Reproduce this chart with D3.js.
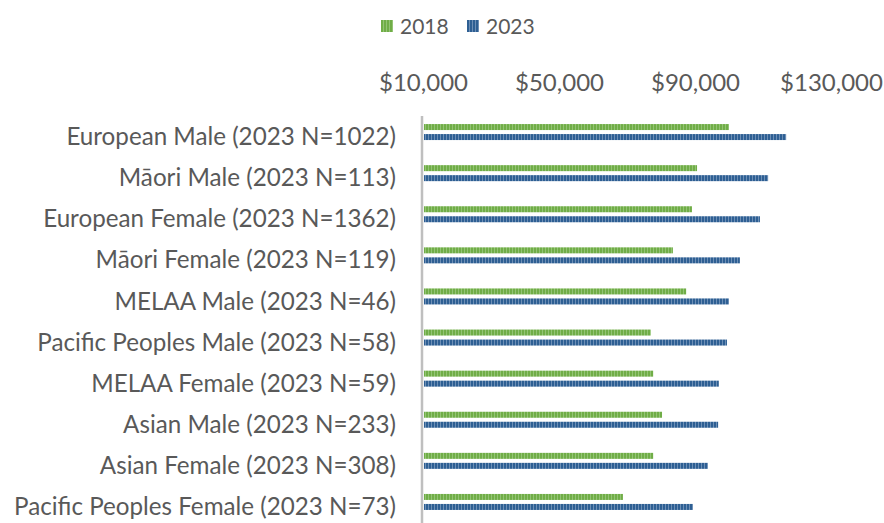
<!DOCTYPE html>
<html>
<head>
<meta charset="utf-8">
<script src="https://cdn.jsdelivr.net/npm/d3@7"></script>
<style>
  body { margin: 0; background: #fff; }
  text { font-family: Lato, "Open Sans", sans-serif; fill: #595959; }
</style>
</head>
<body>
<svg id="chart" width="884" height="523"></svg>
<script>
// Data
const categories = [
  'European Male (2023 N=1022)',
  'Māori Male (2023 N=113)',
  'European Female (2023 N=1362)',
  'Māori Female (2023 N=119)',
  'MELAA Male (2023 N=46)',
  'Pacific Peoples Male (2023 N=58)',
  'MELAA Female (2023 N=59)',
  'Asian Male (2023 N=233)',
  'Asian Female (2023 N=308)',
  'Pacific Peoples Female (2023 N=73)'
];
const series = ['2018', '2023'];
const values2018 = [100000, 90600, 89100, 83500, 87400, 77000, 77700, 80300, 77700, 68800];
const values2023 = [116800, 111500, 109100, 103200, 100000, 99400, 97000, 96800, 93800, 89400];
const xTicks = [10000, 50000, 90000, 130000];

const colors = { '2018': '#70ad47', '2023': '#2e5f93' };
const stripes = { '2018': '#93c474', '2023': '#6d8fb6' };

const svg = d3.select('#chart');

// Striped fills like the Excel pattern
const defs = svg.append('defs');
series.forEach((s) => {
  const p = defs.append('pattern')
    .attr('id', 'pat' + s)
    .attr('patternUnits', 'userSpaceOnUse')
    .attr('width', 3)
    .attr('height', 10);
  p.append('rect').attr('width', 3).attr('height', 10).attr('fill', colors[s]);
  p.append('rect').attr('x', 2).attr('width', 1).attr('height', 10).attr('fill', stripes[s]);
});

// Scales
const x = d3.scaleLinear().domain([10000, 130000]).range([423, 831]);
const y = d3.scaleBand().domain(categories).range([111.5, 522.5]);
const ySub = d3.scaleBand().domain(series).range([-8, 8]).paddingInner(0.4);

// Top axis labels
const xAxis = d3.axisTop(x)
  .tickValues(xTicks)
  .tickSize(0)
  .tickFormat((d) => '$' + d3.format(',')(d));
const gx = svg.append('g').attr('transform', 'translate(0,94)').call(xAxis);
gx.select('.domain').remove();
gx.selectAll('text').attr('font-size', 24).attr('fill', '#595959');

// Bars
const rows = categories.map((c, i) => ({ cat: c, '2018': values2018[i], '2023': values2023[i] }));
const groups = svg.append('g').selectAll('g')
  .data(rows)
  .join('g')
  .attr('transform', (d) => `translate(0,${y(d.cat) + y.bandwidth() / 2})`);

groups.selectAll('rect')
  .data((d) => series.map((s) => ({ s, v: d[s] })))
  .join('rect')
  .attr('x', x(10000) + 1)
  .attr('y', (d) => ySub(d.s))
  .attr('width', (d) => x(d.v) - x(10000) - 1)
  .attr('height', ySub.bandwidth())
  .attr('fill', (d) => `url(#pat${d.s})`);

// Vertical axis line
svg.append('line')
  .attr('x1', 422).attr('x2', 422)
  .attr('y1', 116).attr('y2', 523)
  .attr('stroke', '#bfbfbf')
  .attr('stroke-width', 2.5);

// Category labels
svg.append('g').selectAll('text')
  .data(categories)
  .join('text')
  .attr('x', 396)
  .attr('y', (d) => y(d) + y.bandwidth() / 2 + 7)
  .attr('text-anchor', 'end')
  .attr('dominant-baseline', 'middle')
  .attr('font-size', 24.2)
  .text((d) => d);

// Legend
const legend = svg.append('g').attr('transform', 'translate(381,20)');
const legendX = d3.scaleOrdinal().domain(series).range([0, 86]);
series.forEach((s) => {
  const g = legend.append('g').attr('transform', `translate(${legendX(s)},0)`);
  g.append('rect').attr('width', 12).attr('height', 12).attr('fill', `url(#pat${s})`);
  g.append('text')
    .attr('x', 19)
    .attr('y', 9)
    .attr('dominant-baseline', 'middle')
    .attr('font-size', 21)
    .text(s);
});
</script>
</body>
</html>
